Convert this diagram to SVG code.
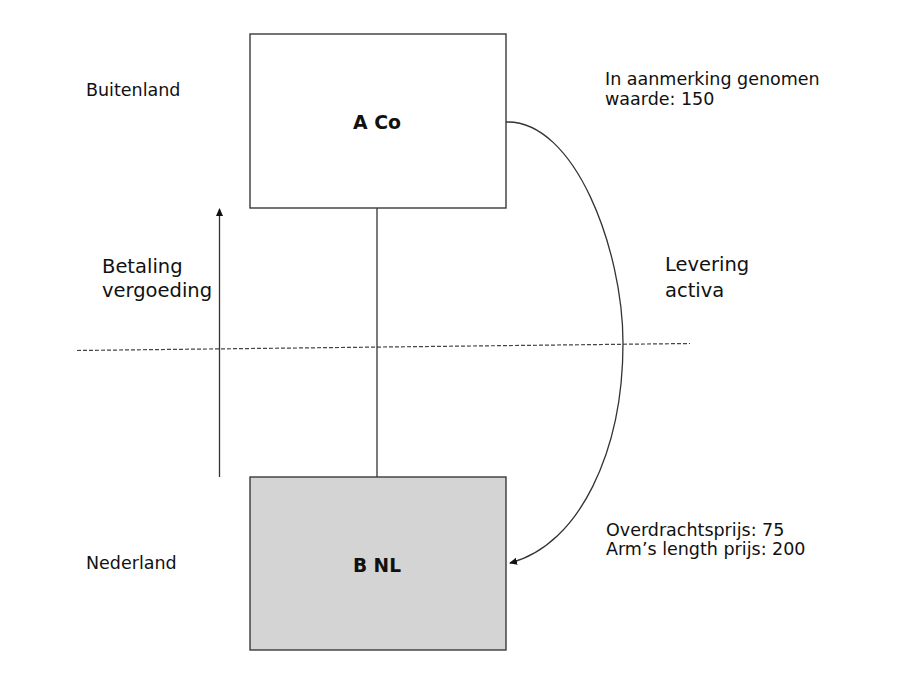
<svg xmlns="http://www.w3.org/2000/svg" width="910" height="683" viewBox="0 0 910 683">
  <style>
    .box { stroke: #3a3a3a; stroke-width: 1.4; }
    .title { font-family: "DejaVu Sans", Verdana, sans-serif; font-weight: bold; font-size: 20px; fill: #111; text-anchor: middle; }
    .lbl { font-family: "DejaVu Sans", Verdana, sans-serif; font-size: 17.5px; fill: #111; }
    .big { font-family: "DejaVu Sans", Verdana, sans-serif; font-size: 19.5px; fill: #111; }
    .line { stroke: #333; stroke-width: 1.3; fill: none; }
    .dash { stroke: #444; stroke-width: 1.2; stroke-dasharray: 4 2; fill: none; }
  </style>
  <defs>
    <marker id="arr" markerWidth="8" markerHeight="8" refX="7" refY="4" orient="auto" markerUnits="userSpaceOnUse">
      <path d="M0,0.5 L8,4 L0,7.5 Z" fill="#111"/>
    </marker>
  </defs>
  <rect width="910" height="683" fill="#fff"/>

  <g id="connectors">
    <line class="line" x1="377" y1="208" x2="377" y2="477"/>
    <line class="line" x1="219.5" y1="477" x2="219.5" y2="209" marker-end="url(#arr)"/>
    <line class="dash" x1="77" y1="350.5" x2="690" y2="343.5"/>
    <path class="line" d="M506,122 C575,120 623,250 623,343 C623,450 580,545 510,563" marker-end="url(#arr)"/>
  </g>

  <g id="node-aco">
    <rect class="box" x="250" y="34" width="256" height="174" fill="#fff"/>
    <text class="title" x="377" y="129" textLength="48" lengthAdjust="spacingAndGlyphs">A Co</text>
  </g>

  <g id="node-bnl">
    <rect class="box" x="250" y="477" width="256" height="173" fill="#d4d4d4"/>
    <text class="title" x="377" y="572" textLength="48" lengthAdjust="spacingAndGlyphs">B NL</text>
  </g>

  <g id="labels">
    <text class="lbl" x="86" y="96">Buitenland</text>
    <text class="lbl" x="86" y="569">Nederland</text>
    <text class="lbl" x="605" y="85">In aanmerking genomen</text>
    <text class="lbl" x="605" y="105">waarde: 150</text>
    <text class="big" x="102" y="272.5">Betaling</text>
    <text class="big" x="102" y="296.5">vergoeding</text>
    <text class="big" x="665" y="271">Levering</text>
    <text class="big" x="665" y="297">activa</text>
    <text class="lbl" x="606" y="536">Overdrachtsprijs: 75</text>
    <text class="lbl" x="606" y="555">Arm’s length prijs: 200</text>
  </g>
</svg>
